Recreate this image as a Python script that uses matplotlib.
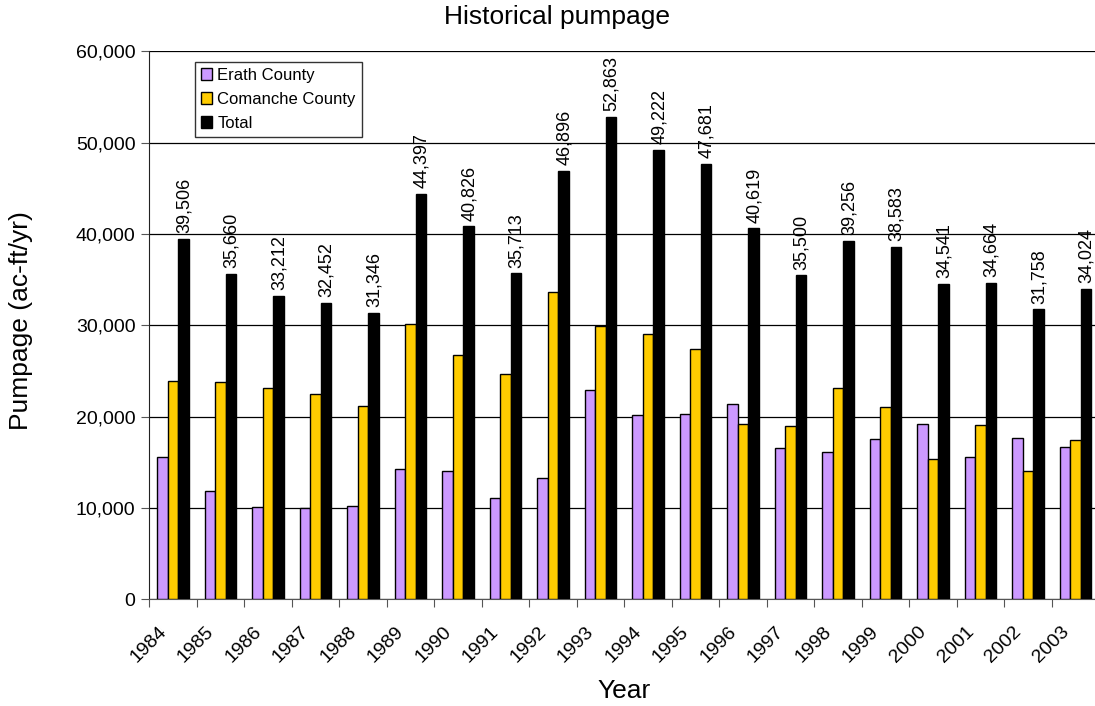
import numpy as np
import matplotlib.pyplot as plt
import matplotlib.transforms as mtransforms
from matplotlib.ticker import FuncFormatter, MultipleLocator

plt.rcParams['font.family'] = ['Liberation Sans', 'DejaVu Sans']

years = list(range(1984, 2004))
erath = [15600, 11900, 10100, 10000, 10200, 14250, 14050, 11050, 13250, 22950,
         20150, 20250, 21350, 16550, 16150, 17550, 19150, 15600, 17650, 16650]
comanche = [23900, 23750, 23100, 22450, 21150, 30150, 26750, 24650, 33650, 29900,
            29050, 27400, 19250, 18950, 23100, 21050, 15400, 19050, 14100, 17400]
total = [39506, 35660, 33212, 32452, 31346, 44397, 40826, 35713, 46896, 52863,
         49222, 47681, 40619, 35500, 39256, 38583, 34541, 34664, 31758, 34024]

fig = plt.figure(figsize=(10.95, 7.06), dpi=100)
ax = fig.add_axes([0.1363, 0.1511, 0.8676, 0.7762])

x = np.arange(len(years)) + 0.5
w = 1 / 4.5
ax.bar(x - w, erath, w, color='#CC99FF', edgecolor='black', linewidth=1, label='Erath County', zorder=3)
ax.bar(x, comanche, w, color='#FFCC00', edgecolor='black', linewidth=1, label='Comanche County', zorder=3)
ax.bar(x + w, total, w, color='black', edgecolor='black', linewidth=1, label='Total', zorder=3)

for xi, t in zip(x, total):
    ax.annotate(f'{t:,}', (xi + w, t), xytext=(0.5, 4), textcoords='offset points',
                rotation=90, ha='center', va='bottom', fontsize=13)

ax.set_xlim(0, len(years))
ax.set_ylim(0, 60000)
ax.yaxis.set_major_locator(MultipleLocator(10000))
ax.yaxis.set_major_formatter(FuncFormatter(lambda v, p: f'{int(v):,}'))
ax.grid(axis='y', color='black', linewidth=0.9, zorder=0)

# ticks sit on the group boundaries, year labels under each group
ax.set_xticks(np.arange(len(years) + 1))
ax.set_xticklabels([])
label_tf = ax.get_xaxis_transform() + mtransforms.ScaledTranslation(-11 / 72, -17 / 72, fig.dpi_scale_trans)
for xi, yr in zip(x, years):
    ax.text(xi, 0, str(yr), transform=label_tf, rotation=45, ha='right', va='top',
            rotation_mode='anchor', fontsize=14, clip_on=False)
ax.tick_params(axis='x', length=6, direction='out', color='#555555')
ax.tick_params(axis='y', length=6, direction='out', labelsize=14, pad=4, color='#555555')

for s in ['top', 'right']:
    ax.spines[s].set_visible(False)
ax.spines['left'].set_color('#222222')
ax.spines['bottom'].set_color('#555555')

fig.text(557 / 1095, 1 - 5 / 706, 'Historical pumpage', ha='center', va='top', fontsize=19)
ax.set_ylabel('Pumpage (ac-ft/yr)', fontsize=19)
ax.yaxis.set_label_coords(-0.122, 0.508)
ax.set_xlabel('Year', fontsize=19)
ax.xaxis.set_label_coords(0.5, -0.146)

leg = ax.legend(loc='upper left', bbox_to_anchor=(0.048, 0.981), fontsize=12,
                frameon=True, fancybox=False, edgecolor='black', handlelength=0.7,
                handleheight=0.7, handletextpad=0.3, borderpad=0.35, borderaxespad=0,
                labelspacing=0.55)
leg.get_frame().set_linewidth(1)

fig.savefig('out.png', dpi=100)
